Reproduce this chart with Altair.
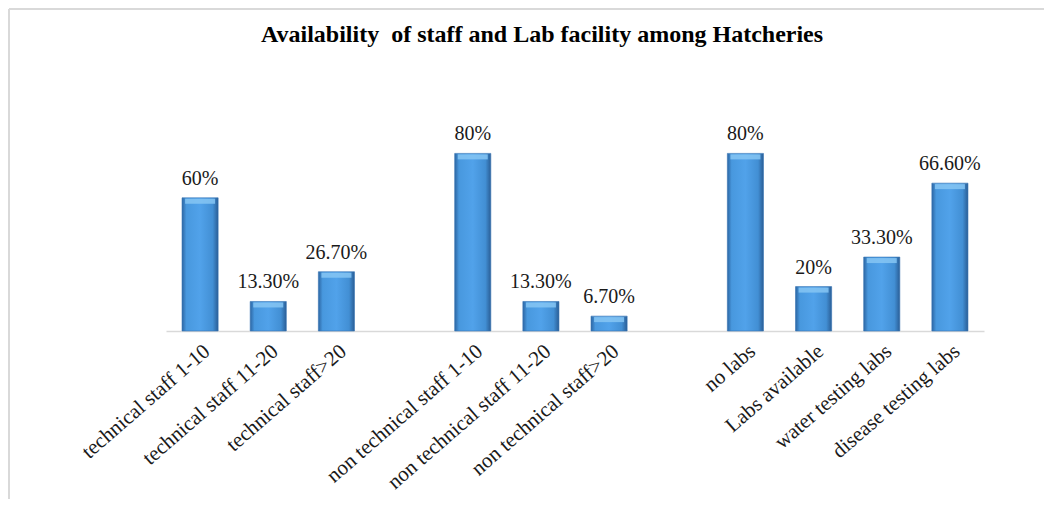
import altair as alt
import pandas as pd

# ---- data ----
domain = [
    "technical staff 1-10", "technical staff 11-20", "technical staff>20", " ",
    "non technical staff 1-10", "non technical staff 11-20", "non technical staff>20", "  ",
    "no labs", "Labs available", "water testing labs", "disease testing labs",
]
categories = [
    "technical staff 1-10", "technical staff 11-20", "technical staff>20",
    "non technical staff 1-10", "non technical staff 11-20", "non technical staff>20",
    "no labs", "Labs available", "water testing labs", "disease testing labs",
]
values = [60, 13.3, 26.7, 80, 13.3, 6.7, 80, 20, 33.3, 66.6]
labels = ["60%", "13.30%", "26.70%", "80%", "13.30%", "6.70%", "80%", "20%", "33.30%", "66.60%"]

df = pd.DataFrame({"category": categories, "value": values, "label": labels})

FONT = "Liberation Serif"

x_enc = alt.X(
    "category:N",
    scale=alt.Scale(domain=domain, paddingInner=0.47, paddingOuter=0.235),
    sort=domain,
    axis=alt.Axis(
        title=None, labelAngle=-41, labelFont=FONT, labelFontSize=21,
        labelColor="#1a1a1a", labelPadding=9, ticks=False,
        domainColor="#d9d9d9", domainWidth=1.5, labelLimit=400,
        labelAlign="right", labelBaseline="top",
    ),
)
y_enc = alt.Y("value:Q", scale=alt.Scale(domain=[0, 100], nice=False), axis=None)

grad = alt.Gradient(
    gradient="linear",
    stops=[
        alt.GradientStop(color="#2c66a3", offset=0),
        alt.GradientStop(color="#4898de", offset=0.12),
        alt.GradientStop(color="#51a2ea", offset=0.5),
        alt.GradientStop(color="#428fd4", offset=0.85),
        alt.GradientStop(color="#2a5e96", offset=1),
    ],
    x1=0, x2=1, y1=0, y2=0,
)

base = alt.Chart(df)

bars = base.mark_bar(color=grad, stroke="#3674b3", strokeWidth=0.6).encode(x=x_enc, y=y_enc)

bevel = base.mark_tick(color="#86c6f3", thickness=5, size=30, yOffset=3.5, opacity=0.85).encode(
    x=x_enc, y=y_enc
)

text = base.mark_text(
    font=FONT, fontSize=20, color="#1a1a1a", baseline="alphabetic", dy=-13
).encode(x=x_enc, y=y_enc, text="label:N")

frame_df = pd.DataFrame({"k": [0]})
left_line = alt.Chart(frame_df).mark_rule(color="#d9d9d9", strokeWidth=2).encode(
    x=alt.value(-157), y=alt.value(-100), y2=alt.value(390)
)
top_line = alt.Chart(frame_df).mark_rule(color="#d9d9d9", strokeWidth=2).encode(
    x=alt.value(-157), x2=alt.value(884), y=alt.value(-100)
)

chart = alt.layer(left_line, top_line, bars, bevel, text).properties(
    width=818,
    height=222,
    autosize=alt.AutoSizeParams(type="none"),
    padding={"left": 158, "top": 101, "right": 60, "bottom": 170},
    title=alt.TitleParams(
        "Availability\u00a0 of staff and Lab facility among Hatcheries",
        font=FONT, fontSize=24, fontWeight="bold", color="#000000",
        anchor="middle", dx=-33, offset=-39, frame="group",
    ),
).configure(
    background="white",
    view=alt.ViewConfig(strokeWidth=0, stroke="transparent"),
)

chart.save("out.html", embed_options={"renderer": "svg", "actions": False})
